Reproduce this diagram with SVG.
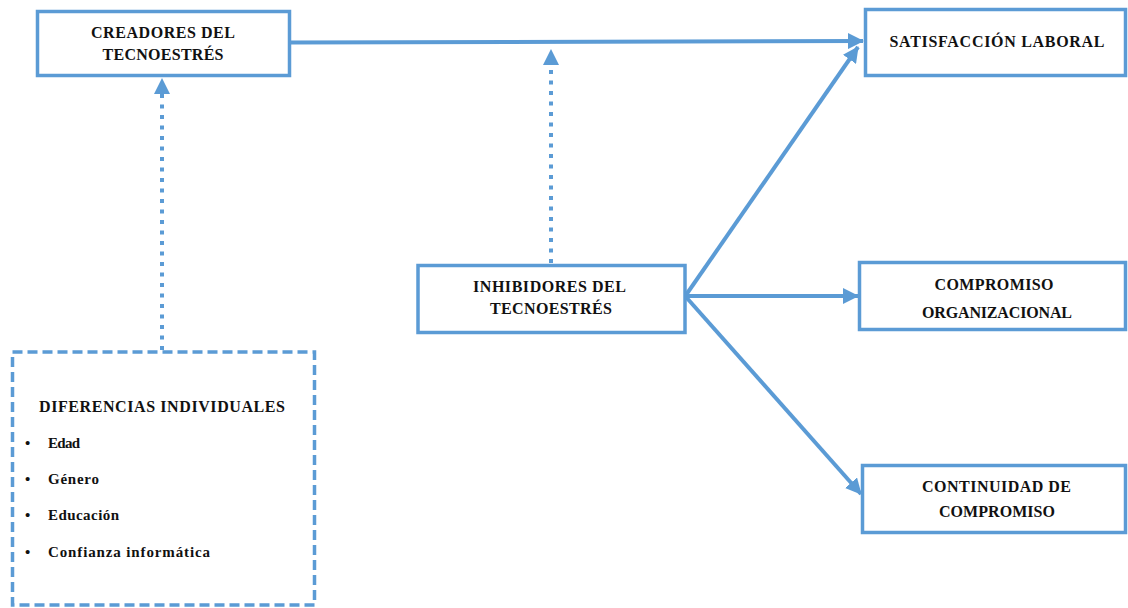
<svg xmlns="http://www.w3.org/2000/svg" width="1128" height="608" viewBox="0 0 1128 608">
<style>
.box{fill:#fff;stroke:#5B9BD5;stroke-width:3.5}
.dbox{fill:#fff;stroke:#5B9BD5;stroke-width:3.5;stroke-dasharray:10 5}
.t{font-family:"Liberation Serif","Times New Roman",serif;font-weight:bold;font-size:16px;fill:#111;text-anchor:middle}
.l{font-family:"Liberation Serif","Times New Roman",serif;font-weight:bold;font-size:15px;fill:#111}
.c{fill:none;stroke:#5B9BD5;stroke-width:4}
.dot{fill:none;stroke:#5B9BD5;stroke-width:4;stroke-dasharray:4 6.5}
</style>
<defs>
<marker id="ah" markerUnits="userSpaceOnUse" markerWidth="16" markerHeight="16" viewBox="0 0 16 16" refX="15" refY="8" orient="auto">
<path d="M0,0 L16,8 L0,16 Z" fill="#5B9BD5"/>
</marker>
</defs>
<rect width="1128" height="608" fill="#fff"/>
<g id="connectors">
<line class="c" x1="290" y1="42.5" x2="863" y2="41" marker-end="url(#ah)"/>
<line class="c" x1="686" y1="295" x2="858" y2="47" marker-end="url(#ah)"/>
<line class="c" x1="686" y1="296" x2="858" y2="296" marker-end="url(#ah)"/>
<line class="c" x1="686" y1="297" x2="861" y2="494" marker-end="url(#ah)"/>
<line class="dot" x1="551" y1="263" x2="551" y2="64"/>
<path d="M551,49 L559,65 L543,65 Z" fill="#5B9BD5"/>
<line class="dot" x1="162" y1="350" x2="162" y2="93"/>
<path d="M162,78 L170,94 L154,94 Z" fill="#5B9BD5"/>
</g>
<g id="creadores">
<rect class="box" x="37.5" y="11.5" width="252" height="64"/>
<text class="t" x="163" y="38" textLength="144" lengthAdjust="spacing">CREADORES  DEL</text>
<text class="t" x="163" y="60" textLength="121" lengthAdjust="spacing">TECNOESTRÉS</text>
</g>
<g id="satisfaccion">
<rect class="box" x="865.5" y="9.5" width="260" height="66"/>
<text class="t" x="997" y="47" textLength="215" lengthAdjust="spacing">SATISFACCIÓN  LABORAL</text>
</g>
<g id="inhibidores">
<rect class="box" x="418" y="265.5" width="267" height="67"/>
<text class="t" x="549.5" y="292" textLength="153" lengthAdjust="spacing">INHIBIDORES  DEL</text>
<text class="t" x="551" y="314" textLength="122" lengthAdjust="spacing">TECNOESTRÉS</text>
</g>
<g id="compromiso">
<rect class="box" x="859.5" y="262.5" width="266" height="67"/>
<text class="t" x="994" y="290" textLength="119" lengthAdjust="spacing">COMPROMISO</text>
<text class="t" x="997" y="318" textLength="150" lengthAdjust="spacing">ORGANIZACIONAL</text>
</g>
<g id="continuidad">
<rect class="box" x="862.5" y="465.5" width="263" height="67"/>
<text class="t" x="996.5" y="492" textLength="149" lengthAdjust="spacing">CONTINUIDAD  DE</text>
<text class="t" x="997" y="517" textLength="116" lengthAdjust="spacing">COMPROMISO</text>
</g>
<g id="diferencias">
<rect class="dbox" x="12.5" y="352" width="302" height="253"/>
<text class="t" x="162" y="412" textLength="246" lengthAdjust="spacing">DIFERENCIAS  INDIVIDUALES</text>
<g class="l">
<text x="25" y="448">•</text><text x="48" y="448" textLength="32" lengthAdjust="spacing">Edad</text>
<text x="25" y="484">•</text><text x="48" y="484" textLength="51" lengthAdjust="spacing">Género</text>
<text x="25" y="520">•</text><text x="48" y="520" textLength="71" lengthAdjust="spacing">Educación</text>
<text x="25" y="557">•</text><text x="48" y="557" textLength="162" lengthAdjust="spacing">Confianza  informática</text>
</g>
</g>
</svg>
